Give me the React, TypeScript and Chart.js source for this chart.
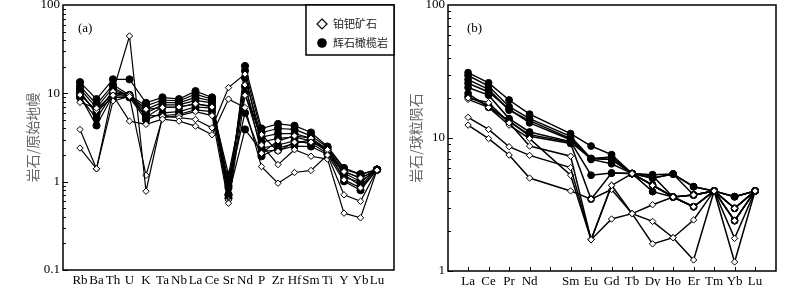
import React, { useEffect, useRef } from "react";
import { Chart, registerables } from "chart.js";

Chart.register(...registerables);

// ---------- Data ----------
const SPIDER_ELEMENTS = ["Rb", "Ba", "Th", "U", "K", "Ta", "Nb", "La", "Ce", "Sr", "Nd", "P", "Zr", "Hf", "Sm", "Ti", "Y", "Yb", "Lu"];
const REE_ELEMENTS = ["La", "Ce", "Pr", "Nd", "", "Sm", "Eu", "Gd", "Tb", "Dy", "Ho", "Er", "Tm", "Yb", "Lu"];

const SPIDER_Y_TICKS = [0.1, 1, 10, 100];
const REE_Y_TICKS = [1, 10, 100];

const ORE_NAME = "铂钯矿石";
const PERI_NAME = "辉石橄榄岩";

// (a) primitive-mantle normalised, ore samples (open diamonds)
const spiderOre1 = [7.9, 6.8, 9.5, 4.85, 4.45, 5.1, 4.85, 4.25, 3.4, 8.6, 6.9, 1.48, 0.96, 1.27, 1.34, 2.0, 0.71, 0.6, 1.35];
const spiderOre2 = [3.9, 1.4, 10.5, 44.6, 0.78, 5.5, 5.3, 5.06, 4.07, 11.6, 16.5, 2.6, 1.56, 2.3, 1.94, 1.8, 0.44, 0.39, 1.35];
const spiderOre3 = [2.4, 1.4, 8.2, 9.2, 1.18, 5.3, 5.6, 6.2, 5.6, 0.57, 9.5, 3.4, 2.2, 2.8, 2.8, 2.3, 1.05, 0.85, 1.35];
const spiderOre4 = [9.6, 6.4, 10.2, 9.6, 6.6, 6.9, 7.0, 7.6, 7.0, 0.62, 12.5, 2.1, 2.9, 3.3, 3.1, 2.2, 1.3, 1.1, 1.35];

// (a) primitive-mantle normalised, pyroxene peridotite (filled circles)
const spiderPeri1 = [13.4, 8.6, 14.4, 14.4, 7.8, 9.0, 8.6, 10.6, 9.0, 0.65, 20.4, 4.0, 4.5, 4.3, 3.6, 2.5, 1.43, 1.22, 1.37];
const spiderPeri2 = [12.1, 7.5, 12.5, 9.6, 7.2, 8.4, 8.2, 9.8, 8.6, 0.72, 18.0, 3.6, 4.0, 3.9, 3.3, 2.45, 1.38, 1.2, 1.37];
const spiderPeri3 = [11.2, 6.9, 11.6, 9.3, 6.6, 7.9, 7.8, 9.0, 8.2, 0.85, 15.0, 3.2, 3.5, 3.5, 3.1, 2.35, 1.3, 1.1, 1.37];
const spiderPeri4 = [10.6, 5.8, 10.8, 9.5, 6.0, 7.4, 7.4, 8.3, 7.8, 1.0, 12.0, 2.8, 3.1, 3.2, 2.9, 2.2, 1.25, 1.0, 1.37];
const spiderPeri5 = [9.3, 4.33, 9.5, 9.2, 5.4, 7.0, 7.0, 7.6, 7.2, 1.2, 10.0, 2.4, 2.6, 2.9, 2.7, 2.1, 1.12, 0.98, 1.37];
const spiderPeri6 = [10.0, 6.2, 9.0, 9.0, 5.0, 6.0, 6.2, 7.0, 6.8, 0.7, 3.9, 2.2, 2.27, 2.52, 2.5, 2.03, 1.01, 0.8, 1.37];
const spiderPeri7 = [9.0, 5.2, 10.0, 9.3, 5.6, 5.6, 5.8, 6.5, 6.2, 0.9, 6.0, 1.94, 2.4, 2.7, 3.0, 2.3, 1.2, 0.9, 1.37];

// (b) chondrite normalised REE, ore samples (Pm not analysed -> null)
const reeOre1 = [20.0, 18.4, 13.0, 8.7, null, 7.3, 1.72, 4.4, 2.7, 2.36, 1.78, 1.21, 4.0, 1.17, 4.0];
const reeOre2 = [14.3, 11.6, 8.6, 7.4, null, 6.0, 1.72, 2.46, 2.7, 3.15, 3.6, 3.73, 4.0, 2.96, 4.0];
const reeOre3 = [12.5, 9.9, 7.45, 5.0, null, 4.0, 3.47, 4.1, 2.7, 1.6, 1.78, 2.42, 4.0, 1.76, 4.0];
const reeOre4 = [19.5, 17.0, 12.5, 9.9, null, 5.25, 1.72, 4.4, 5.4, 4.4, 3.6, 3.04, 4.0, 2.39, 4.0];

// (b) chondrite normalised REE, pyroxene peridotite
const reePeri1 = [31.0, 26.0, 19.3, 15.1, null, 10.8, 8.7, 7.5, 5.4, 5.3, 5.36, 4.3, 4.0, 3.62, 4.0];
const reePeri2 = [29.5, 24.6, 17.2, 14.0, null, 10.3, 7.0, 7.2, 5.4, 5.0, 5.36, 3.73, 4.0, 3.62, 4.0];
const reePeri3 = [27.5, 23.2, 16.2, 13.5, null, 9.9, 7.0, 6.9, 5.4, 4.43, 3.6, 3.73, 4.0, 2.96, 4.0];
const reePeri4 = [25.8, 22.2, 16.5, 13.0, null, 9.7, 6.9, 6.4, 5.4, 5.2, 3.6, 3.04, 4.0, 2.96, 4.0];
const reePeri5 = [24.0, 21.0, 14.0, 11.1, null, 9.4, 5.25, 5.45, 5.4, 4.98, 5.36, 4.3, 4.0, 2.39, 4.0];
const reePeri6 = [21.6, 17.0, 13.5, 10.3, null, 9.1, 3.47, 5.45, 5.4, 3.95, 3.6, 3.04, 4.0, 2.39, 4.0];
const reePeri7 = [20.4, 17.5, 13.2, 10.6, null, 9.3, 7.0, 6.9, 5.4, 4.43, 3.6, 3.73, 4.0, 3.62, 4.0];

const spiderOre = [spiderOre1, spiderOre2, spiderOre3, spiderOre4];
const spiderPeri = [spiderPeri1, spiderPeri2, spiderPeri3, spiderPeri4, spiderPeri5, spiderPeri6, spiderPeri7];
const reeOre = [reeOre1, reeOre2, reeOre3, reeOre4];
const reePeri = [reePeri1, reePeri2, reePeri3, reePeri4, reePeri5, reePeri6, reePeri7];

// ---------- Styling / layout ----------
const W = 400;
const H = 286;
const SERIF = '"Liberation Serif", "Times New Roman", serif';
const CJK = '"Noto Sans CJK SC", sans-serif';

type Area = { left: number; right: number; top: number; bottom: number };

type PanelSpec = {
  labels: string[];
  yMin: number;
  yMax: number;
  yTicks: number[];
  yTitle: string;
  titlePad: number;
  ore: (number | null)[][];
  peri: (number | null)[][];
  area: Area;
  xMin: number;
  xMax: number;
  panelLabel: string;
  legend: boolean;
  xTicks: boolean;
  circleR: number;
  diamondR: number;
  lineW: number;
};

const decorPlugin = {
  id: "decor",
  afterDraw(chart: any, _args: any, opts: any) {
    const { ctx, chartArea } = chart;
    const { left, right, top, bottom } = chartArea;
    const xs = chart.scales.x;
    const ys = chart.scales.y;
    ctx.save();
    ctx.strokeStyle = "#000";
    // minor/major ticks on left axis, inward
    ctx.lineWidth = 1;
    ctx.beginPath();
    const e0 = Math.round(Math.log10(ys.min));
    const e1 = Math.round(Math.log10(ys.max));
    for (let e = e0; e < e1; e++) {
      for (let m = 1; m <= 9; m++) {
        const v = m * Math.pow(10, e);
        const py = Math.round(ys.getPixelForValue(v)) + 0.5;
        const len = m === 1 ? 5 : 3;
        ctx.moveTo(left, py);
        ctx.lineTo(left + len, py);
      }
    }
    if (opts.xTicks) {
      for (let i = 0; i < opts.nx; i++) {
        const px = Math.round(xs.getPixelForValue(i)) + 0.5;
        ctx.moveTo(px, bottom);
        ctx.lineTo(px, bottom - 4);
      }
    }
    ctx.stroke();

    // frame
    ctx.lineWidth = 1.5;
    ctx.strokeRect(left, top, right - left, bottom - top);

    // panel label
    ctx.fillStyle = "#000";
    ctx.font = `13px ${SERIF}`;
    ctx.textBaseline = "middle";
    ctx.textAlign = "left";
    ctx.fillText(opts.label, left + opts.labelDx, top + 24);

    // legend
    if (opts.legend) {
      const bx = 306;
      const bw = right - bx;
      const bh = 55 - top;
      ctx.fillStyle = "#fff";
      ctx.fillRect(bx, top, bw, bh);
      ctx.lineWidth = 1.5;
      ctx.strokeRect(bx, top, bw, bh);
      const sx = 322;
      // diamond
      ctx.lineWidth = 1.2;
      ctx.beginPath();
      ctx.moveTo(sx, 24 - 5);
      ctx.lineTo(sx + 5, 24);
      ctx.lineTo(sx, 24 + 5);
      ctx.lineTo(sx - 5, 24);
      ctx.closePath();
      ctx.fillStyle = "#fff";
      ctx.fill();
      ctx.stroke();
      // circle
      ctx.beginPath();
      ctx.arc(sx, 43, 4.8, 0, Math.PI * 2);
      ctx.fillStyle = "#000";
      ctx.fill();
      ctx.fillStyle = "#222";
      ctx.font = `11px ${CJK}`;
      ctx.fillText(ORE_NAME, 333, 24);
      ctx.fillText(PERI_NAME, 333, 43);
    }
    ctx.restore();
  },
};

function buildConfig(p: PanelSpec): any {
  const toPoints = (vals: (number | null)[]) => vals.map((v, i) => ({ x: i, y: v }));
  const datasets: any[] = [];
  p.ore.forEach((vals) =>
    datasets.push({
      label: ORE_NAME,
      data: toPoints(vals),
      borderColor: "#000",
      borderWidth: p.lineW,
      pointStyle: "rectRot",
      pointRadius: p.diamondR,
      pointBackgroundColor: "#fff",
      pointBorderColor: "#000",
      pointBorderWidth: 1,
      spanGaps: true,
      tension: 0,
      fill: false,
    })
  );
  p.peri.forEach((vals) =>
    datasets.push({
      label: PERI_NAME,
      data: toPoints(vals),
      borderColor: "#000",
      borderWidth: p.lineW,
      pointStyle: "circle",
      pointRadius: p.circleR,
      pointBackgroundColor: "#000",
      pointBorderColor: "#000",
      pointBorderWidth: 1,
      spanGaps: true,
      tension: 0,
      fill: false,
    })
  );

  return {
    type: "line",
    data: { datasets },
    plugins: [decorPlugin],
    options: {
      responsive: false,
      animation: false,
      events: [],
      layout: { padding: { left: 0, top: p.area.top, right: W - p.area.right, bottom: 0 } },
      plugins: {
        legend: { display: false },
        tooltip: { enabled: false },
        decor: {
          label: p.panelLabel,
          labelDx: p.panelLabel === "(a)" ? 15 : 19,
          legend: p.legend,
          xTicks: p.xTicks,
          nx: p.labels.length,
        },
      },
      scales: {
        x: {
          type: "linear",
          min: p.xMin,
          max: p.xMax,
          grid: { display: false, drawTicks: false },
          border: { display: false },
          ticks: {
            color: "#000",
            font: { family: SERIF, size: 13 },
            padding: 3,
            autoSkip: false,
            maxRotation: 0,
            minRotation: 0,
            callback: (v: any) => p.labels[Math.round(v)] ?? "",
          },
          afterBuildTicks: (s: any) => {
            s.ticks = p.labels.map((_, i) => ({ value: i }));
          },
          afterFit: (s: any) => {
            s.height = H - p.area.bottom;
            s.paddingLeft = 0;
            s.paddingRight = 0;
          },
        },
        y: {
          type: "logarithmic",
          min: p.yMin,
          max: p.yMax,
          grid: { display: false, drawTicks: false },
          border: { display: false },
          ticks: {
            color: "#000",
            font: { family: SERIF, size: 13 },
            padding: 3,
            autoSkip: false,
            callback: (v: any) => String(v),
          },
          afterBuildTicks: (s: any) => {
            s.ticks = p.yTicks.map((v) => ({ value: v }));
          },
          title: {
            display: true,
            text: p.yTitle,
            color: "#666",
            font: { family: CJK, size: 14 },
            padding: { top: p.titlePad, bottom: 0 },
          },
          afterFit: (s: any) => {
            s.width = p.area.left;
            s.paddingTop = 0;
            s.paddingBottom = 0;
          },
        },
      },
    },
  };
}

const panelA: PanelSpec = {
  labels: SPIDER_ELEMENTS,
  yMin: 0.1,
  yMax: 100,
  yTicks: SPIDER_Y_TICKS,
  yTitle: "岩石/原始地幔",
  titlePad: 24,
  ore: spiderOre,
  peri: spiderPeri,
  area: { left: 63, right: 394, top: 5, bottom: 270 },
  xMin: -1.03,
  xMax: 19.03,
  panelLabel: "(a)",
  legend: true,
  xTicks: false,
  circleR: 3.6,
  diamondR: 3.2,
  lineW: 1.2,
};

const panelB: PanelSpec = {
  labels: REE_ELEMENTS,
  yMin: 1,
  yMax: 100,
  yTicks: REE_Y_TICKS,
  yTitle: "岩石/球粒陨石",
  titlePad: 7,
  ore: reeOre,
  peri: reePeri,
  area: { left: 48, right: 376, top: 4, bottom: 271 },
  xMin: -0.98,
  xMax: 15.02,
  panelLabel: "(b)",
  legend: false,
  xTicks: true,
  circleR: 3.4,
  diamondR: 3.2,
  lineW: 1.5,
};

function Panel({ spec, left }: { spec: PanelSpec; left: number }) {
  const ref = useRef<HTMLCanvasElement | null>(null);
  useEffect(() => {
    if (!ref.current) return;
    const chart = new Chart(ref.current, buildConfig(spec));
    return () => chart.destroy();
  }, [spec]);
  return (
    <canvas
      ref={ref}
      width={W}
      height={H}
      style={{ position: "absolute", left, top: 0, width: W, height: H }}
    />
  );
}

export default function App() {
  return (
    <div style={{ position: "fixed", left: 0, top: 0, width: 800, height: 286, background: "#fff", overflow: "hidden" }}>
      <Panel spec={panelA} left={0} />
      <Panel spec={panelB} left={400} />
    </div>
  );
}
